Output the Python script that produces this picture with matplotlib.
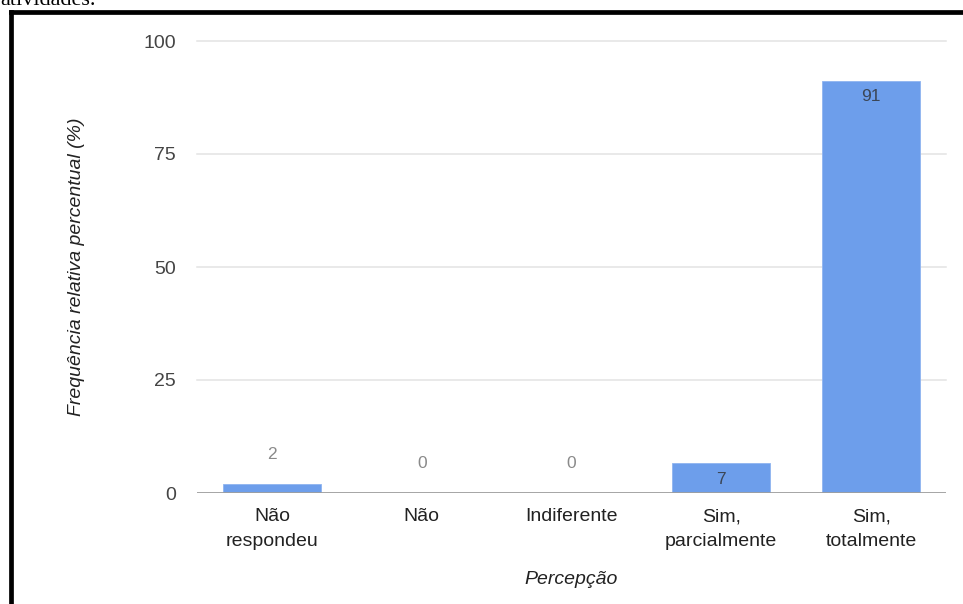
import matplotlib.pyplot as plt
from matplotlib.lines import Line2D

categorias = ['Não\nrespondeu', 'Não', 'Indiferente', 'Sim,\nparcialmente', 'Sim,\ntotalmente']
valores = [2.1, 0, 0, 6.6, 91.2]
rotulos = ['2', '0', '0', '7', '91']
yticks = [0, 25, 50, 75, 100]

plt.rcParams['font.family'] = ['Liberation Sans', 'DejaVu Sans']

W, H = 963, 604
fig = plt.figure(figsize=(W / 100, H / 100), dpi=100)
ax = fig.add_axes([197 / W, 1 - 493 / H, 749 / W, 452 / H])

x = range(len(categorias))
ax.bar(x, valores, width=0.655, color='#6d9eeb', edgecolor='#8fb4f0', linewidth=0.6, zorder=3)
ax.set_xlim(-0.5, len(categorias) - 0.5)
ax.set_ylim(0, 100)

for i, (v, r) in enumerate(zip(valores, rotulos)):
    if v > 5:
        ax.annotate(r, (i, v), xytext=(0, -16), textcoords='offset pixels',
                    ha='center', va='center', fontsize=12.5, color='#3b4656', zorder=4)
    else:
        ax.annotate(r, (i, v), xytext=(0, 29), textcoords='offset pixels',
                    ha='center', va='center', fontsize=12.5, color='#8a8a8a', zorder=4)

ax.set_yticks(yticks)
ax.set_yticklabels([str(t) for t in yticks], fontsize=14, color='#444444')
ax.set_xticks(list(x))
ax.set_xticklabels(categorias, fontsize=14, color='#222222', linespacing=1.6)
ax.tick_params(axis='both', length=0)
ax.tick_params(axis='y', pad=15)
ax.tick_params(axis='x', pad=11)

for t in yticks[1:]:
    ax.axhline(t, color='#e3e3e3', lw=1.1, zorder=1, clip_on=False)
ax.axhline(0, color='#9e9e9e', lw=1.3, zorder=4)
for s in ax.spines.values():
    s.set_visible(False)

ax.set_ylabel('Frequência relativa percentual (%)', fontsize=14, style='italic', color='#222222', labelpad=42)
ax.set_xlabel('Percepção', fontsize=14, style='italic', color='#222222', labelpad=15)

# moldura preta
fig.add_artist(Line2D([10.5 / W, 10.5 / W], [-0.05, 1 - 11.5 / H], transform=fig.transFigure,
                      color='black', lw=3.4, solid_capstyle='projecting'))
fig.add_artist(Line2D([10.5 / W, 1.05], [1 - 11.5 / H, 1 - 11.5 / H], transform=fig.transFigure,
                      color='black', lw=3.4, solid_capstyle='projecting'))

fig.text(0.5 / W, 1 - 5 / H, 'atividades.', fontsize=16, family='Liberation Serif',
         va='baseline', ha='left', color='black')

fig.savefig('out.png', dpi=100)
